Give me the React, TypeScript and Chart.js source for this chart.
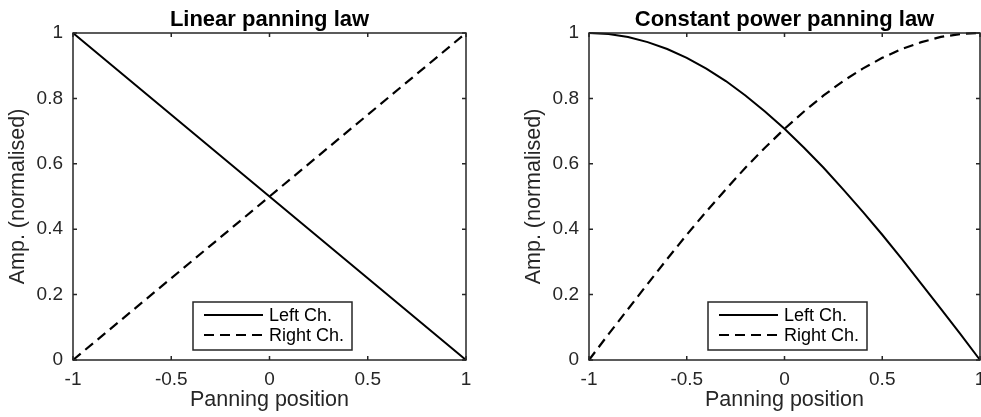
import { useEffect, useRef } from "react";
import { Chart, registerables } from "chart.js";

Chart.register(...registerables);

// Linear panning law: straight gain ramps
const panPosLinear = [-1, -0.5, 0, 0.5, 1];
const linearLeft = [1, 0.75, 0.5, 0.25, 0];
const linearRight = [0, 0.25, 0.5, 0.75, 1];

// Constant power panning law: quarter-cycle gain curves
const panPosPower = [
  -1, -0.9, -0.8, -0.7, -0.6, -0.5, -0.4, -0.3, -0.2, -0.1, 0,
  0.1, 0.2, 0.3, 0.4, 0.5, 0.6, 0.7, 0.8, 0.9, 1,
];
const powerLeft = [
  1, 0.997, 0.988, 0.972, 0.951, 0.924, 0.891, 0.853, 0.809, 0.76, 0.707,
  0.649, 0.588, 0.522, 0.454, 0.383, 0.309, 0.233, 0.156, 0.079, 0,
];
const powerRight = [
  0, 0.079, 0.156, 0.233, 0.309, 0.383, 0.454, 0.522, 0.588, 0.649, 0.707,
  0.76, 0.809, 0.853, 0.891, 0.924, 0.951, 0.972, 0.988, 0.997, 1,
];

const xTicks = [-1, -0.5, 0, 0.5, 1];
const yTicks = [0, 0.2, 0.4, 0.6, 0.8, 1];
const seriesNames = ["Left Ch.", "Right Ch."];
const panelTitles = ["Linear panning law", "Constant power panning law"];
const xAxisLabel = "Panning position";
const yAxisLabel = "Amp. (normalised)";

const AXIS = "#262626";
const FONT = '"Liberation Sans", Arial, Helvetica, sans-serif';
const TICK_SIZE = 19;
const LABEL_SIZE = 21.5;
const TITLE_SIZE = 22;
const LEGEND_SIZE = 18;
const DASH = [10, 6];

// Draws the boxed axes with inward ticks, the title, axis labels and the legend box
const framePlugin = {
  id: "frame",
  afterDatasetsDraw(chart: any, _args: any, opts: any) {
    const { ctx, chartArea: a, scales } = chart;
    const xs = scales.x;
    const ys = scales.y;
    const cx = (a.left + a.right) / 2;
    const cy = (a.top + a.bottom) / 2;
    ctx.save();

    // box
    ctx.strokeStyle = AXIS;
    ctx.lineWidth = 1.5;
    ctx.strokeRect(a.left, a.top, a.right - a.left, a.bottom - a.top);

    // inward tick marks on all four sides
    const tl = 4;
    ctx.beginPath();
    for (const t of xTicks) {
      const px = xs.getPixelForValue(t);
      ctx.moveTo(px, a.bottom);
      ctx.lineTo(px, a.bottom - tl);
      ctx.moveTo(px, a.top);
      ctx.lineTo(px, a.top + tl);
    }
    for (const t of yTicks) {
      const py = ys.getPixelForValue(t);
      ctx.moveTo(a.left, py);
      ctx.lineTo(a.left + tl, py);
      ctx.moveTo(a.right, py);
      ctx.lineTo(a.right - tl, py);
    }
    ctx.stroke();

    // title
    ctx.fillStyle = "#000";
    ctx.font = `bold ${TITLE_SIZE}px ${FONT}`;
    ctx.textAlign = "center";
    ctx.textBaseline = "alphabetic";
    ctx.fillText(opts.title, cx, a.top - 7);

    // x label
    ctx.fillStyle = AXIS;
    ctx.font = `${LABEL_SIZE}px ${FONT}`;
    ctx.fillText(xAxisLabel, cx, a.bottom + 46);

    // y label
    ctx.save();
    ctx.translate(a.left - 55, cy);
    ctx.rotate(-Math.PI / 2);
    ctx.textBaseline = "middle";
    ctx.fillText(yAxisLabel, 0, 0);
    ctx.restore();

    // legend
    const lw = 159;
    const lh = 48;
    const lx = cx + 3 - lw / 2;
    const ly = a.bottom - 10 - lh;
    ctx.fillStyle = "#fff";
    ctx.fillRect(lx, ly, lw, lh);
    ctx.strokeStyle = AXIS;
    ctx.lineWidth = 1.5;
    ctx.strokeRect(lx, ly, lw, lh);
    ctx.font = `${LEGEND_SIZE}px ${FONT}`;
    ctx.textAlign = "left";
    ctx.textBaseline = "middle";
    chart.data.datasets.forEach((ds: any, i: number) => {
      const ry = ly + 13 + i * 20;
      ctx.strokeStyle = ds.borderColor;
      ctx.lineWidth = ds.borderWidth;
      ctx.setLineDash(ds.borderDash || []);
      ctx.beginPath();
      ctx.moveTo(lx + 11, ry);
      ctx.lineTo(lx + 70, ry);
      ctx.stroke();
      ctx.setLineDash([]);
      ctx.fillStyle = "#000";
      ctx.fillText(ds.label, lx + 76, ry + 1);
    });

    ctx.restore();
  },
};

type PanelProps = {
  left: number;
  width: number;
  areaLeft: number;
  areaRight: number;
  xs: number[];
  leftVals: number[];
  rightVals: number[];
  title: string;
};

function Panel({ left, width, areaLeft, areaRight, xs, leftVals, rightVals, title }: PanelProps) {
  const ref = useRef<HTMLCanvasElement>(null);

  useEffect(() => {
    const tickFont = { family: FONT, size: TICK_SIZE };
    const chart = new Chart(ref.current!, {
      type: "line",
      data: {
        datasets: [
          {
            label: seriesNames[0],
            data: xs.map((x, i) => ({ x, y: leftVals[i] })),
            borderColor: "#000",
            borderWidth: 2,
            pointRadius: 0,
            tension: 0,
            clip: false,
          },
          {
            label: seriesNames[1],
            data: xs.map((x, i) => ({ x, y: rightVals[i] })),
            borderColor: "#000",
            borderWidth: 2.2,
            borderDash: DASH,
            pointRadius: 0,
            tension: 0,
            clip: false,
          },
        ],
      },
      options: {
        responsive: false,
        animation: false,
        events: [],
        layout: { padding: { left: 0, right: width - areaRight, top: 33, bottom: 0 } },
        scales: {
          x: {
            type: "linear",
            min: -1,
            max: 1,
            afterFit: (s: any) => {
              s.height = 57;
            },
            afterBuildTicks: (s: any) => {
              s.ticks = xTicks.map((v) => ({ value: v }));
            },
            grid: { display: false, drawTicks: false },
            border: { display: false },
            ticks: {
              color: AXIS,
              font: tickFont,
              padding: 8,
              maxRotation: 0,
              autoSkip: false,
              callback: (v: any) => String(v),
            },
          },
          y: {
            type: "linear",
            min: 0,
            max: 1,
            afterFit: (s: any) => {
              s.width = areaLeft;
            },
            afterBuildTicks: (s: any) => {
              s.ticks = yTicks.map((v) => ({ value: v }));
            },
            grid: { display: false, drawTicks: false },
            border: { display: false },
            ticks: {
              color: AXIS,
              font: tickFont,
              padding: 10,
              autoSkip: false,
              callback: (v: any) => String(v),
            },
          },
        },
        plugins: {
          legend: { display: false },
          tooltip: { enabled: false },
          frame: { title },
        } as any,
      },
      plugins: [framePlugin],
    });
    return () => chart.destroy();
  }, []);

  return (
    <canvas
      ref={ref}
      width={width}
      height={417}
      style={{ position: "absolute", left, top: 0, width, height: 417 }}
    />
  );
}

export default function App() {
  return (
    <div
      style={{
        position: "fixed",
        left: 0,
        top: 0,
        width: 981,
        height: 417,
        overflow: "hidden",
        background: "#fff",
      }}
    >
      <Panel
        left={0}
        width={490}
        areaLeft={73}
        areaRight={466}
        xs={panPosLinear}
        leftVals={linearLeft}
        rightVals={linearRight}
        title={panelTitles[0]}
      />
      <Panel
        left={495}
        width={510}
        areaLeft={94}
        areaRight={485}
        xs={panPosPower}
        leftVals={powerLeft}
        rightVals={powerRight}
        title={panelTitles[1]}
      />
    </div>
  );
}
